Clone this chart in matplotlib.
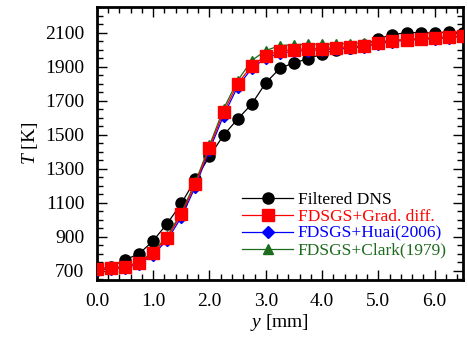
import numpy as np
import matplotlib
matplotlib.use("Agg")
import matplotlib.pyplot as plt
from matplotlib.ticker import MultipleLocator

plt.rcParams['font.family'] = ['Liberation Serif', 'DejaVu Serif']
plt.rcParams['mathtext.fontset'] = 'custom'
plt.rcParams['mathtext.rm'] = 'Liberation Serif'
plt.rcParams['mathtext.it'] = 'Liberation Serif:italic'

# y positions [mm]
y_mm = np.arange(27) * 0.25

# temperature profiles [K]
T_dns = [705, 724, 765, 800, 877, 978, 1096, 1237, 1373, 1497, 1592, 1680, 1805,
         1890, 1923, 1946, 1975, 2000, 2012, 2025, 2065, 2088, 2100, 2100, 2097, 2106, 2100]
T_grad = [712, 716, 724, 747, 806, 895, 1031, 1208, 1424, 1633, 1799, 1905, 1964,
          1994, 2000, 2006, 2006, 2012, 2017, 2023, 2041, 2053, 2059, 2065, 2070, 2076, 2082]
T_huai = [706, 712, 718, 740, 795, 882, 1015, 1195, 1410, 1612, 1782, 1890, 1950,
          1980, 1990, 1995, 2000, 2005, 2010, 2018, 2035, 2048, 2055, 2060, 2065, 2070, 2078]
T_clark = [712, 717, 726, 750, 812, 903, 1042, 1222, 1437, 1652, 1818, 1936, 1995,
           2024, 2030, 2032, 2032, 2033, 2036, 2040, 2048, 2055, 2060, 2065, 2070, 2075, 2080]

green = '#1d6b1d'

fig = plt.figure(figsize=(4.68, 3.40), dpi=100)
ax = fig.add_axes([0.207, 0.176, 0.782, 0.803])

ax.plot(y_mm, T_dns, '-o', color='black', lw=0.9, ms=8, label='Filtered DNS', zorder=2)
ax.plot(y_mm, T_huai, '-D', color='blue', lw=0.9, ms=6.5, label='FDSGS+Huai(2006)', zorder=3)
ax.plot(y_mm, T_clark, '-^', color=green, lw=0.9, ms=7, label='FDSGS+Clark(1979)', zorder=4)
ax.plot(y_mm, T_grad, '-s', color='red', lw=0.9, ms=8, label='FDSGS+Grad. diff.', zorder=5)

ax.set_xlim(0, 6.5)
ax.set_ylim(645, 2250)
ax.xaxis.set_major_locator(MultipleLocator(1.0))
ax.xaxis.set_minor_locator(MultipleLocator(0.2))
ax.yaxis.set_major_locator(MultipleLocator(200))
ax.yaxis.set_minor_locator(MultipleLocator(50))
ax.set_yticks(np.arange(700, 2101, 200))
ax.xaxis.set_major_formatter(matplotlib.ticker.FormatStrFormatter('%.1f'))

ax.tick_params(which='both', direction='in', top=True, right=True, labelsize=14)
ax.tick_params(which='major', length=7, width=1, pad=9)
ax.tick_params(which='minor', length=4, width=1)
for s in ax.spines.values():
    s.set_linewidth(2)

ax.set_xlabel('$y$ [mm]', fontsize=14, labelpad=2)
ax.set_ylabel('$T$ [K]', fontsize=14, labelpad=4)

h, l = ax.get_legend_handles_labels()
order = [0, 3, 1, 2]
leg = ax.legend([h[i] for i in order], [l[i] for i in order], loc='lower right',
                frameon=False, fontsize=12.5, handlelength=2.9, handletextpad=0.3,
                labelspacing=0.05, borderaxespad=0.2, bbox_to_anchor=(0.985, 0.04))
for txt, line in zip(leg.get_texts(), leg.get_lines()):
    txt.set_color(line.get_color())

fig.savefig('out.png', dpi=100)
